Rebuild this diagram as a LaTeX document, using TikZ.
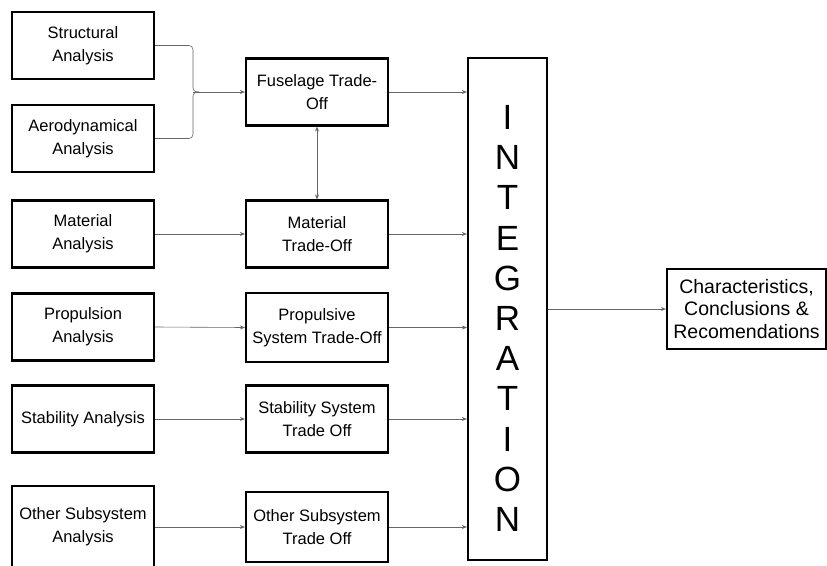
\documentclass[tikz,border=0pt]{standalone}
\usepackage{fontspec}
\setmainfont{Liberation Sans}
\usetikzlibrary{arrows.meta}

\begin{document}
\begin{tikzpicture}[x=1pt, y=-1pt, >={Stealth[length=5pt,width=4pt]},
  box/.style={draw, line width=2.2pt, minimum width=142pt, minimum height=67pt,
    inner sep=0pt, align=center, font=\fontsize{16.5}{23}\selectfont},
  link/.style={draw=black!60, line width=0.6pt}]
  \useasboundingbox (0,0) rectangle (827,565);

  % Analysis column
  \node[box] (struct) at (83,45.5) {Structural\\Analysis};
  \node[box] (aero) at (83,138.5) {Aerodynamical\\Analysis};
  \node[box] (matan) at (83,234) {Material\\Analysis};
  \node[box] (propan) at (83,327) {Propulsion\\Analysis};
  \node[box] (staban) at (83,419) {Stability Analysis};
  \node[box, minimum height=82pt] (otheran) at (83,527) {Other Subsystem\\Analysis};

  % Trade-off column
  \node[box] (fuse) at (317,92) {Fuselage Trade-\\Off};
  \node[box] (matto) at (317,234) {Material\\Trade-Off};
  \node[box, minimum height=69pt] (propto) at (317,327.5) {Propulsive\\System Trade-Off};
  \node[box] (stabto) at (317,419) {Stability System\\Trade Off};
  \node[box, minimum height=70pt] (otherto) at (317,527) {Other Subsystem\\Trade Off};

  % Integration block and result
  \node[draw, line width=2.2pt, minimum width=79pt, minimum height=502pt, inner sep=0pt] (integ) at (507.5,309) {};
  \node[align=center, inner sep=0pt, font=\fontsize{35}{40.2}\selectfont] (integword) at (507.5,318.5)
    {I\\N\\T\\E\\G\\R\\A\\T\\I\\O\\N};
  \node[box, minimum width=159pt, minimum height=80pt, font=\fontsize{19.5}{22.5}\selectfont] (result) at (746.5,309)
    {Characteristics,\\Conclusions \&\\Recomendations};

  % Bracket joining structural and aerodynamical
  \coordinate (merge) at (193,92);
  \draw[link, rounded corners=4pt] (struct.east) -| (merge) -- ++(6,0);
  \draw[link, rounded corners=4pt] (aero.east) -| (merge) -- ++(6,0);
  \draw[link, ->] (merge) -- (fuse.west);
  \draw[link, <->] (fuse.south) -- (matto.north);

  % Analysis to trade-off
  \draw[link, ->] (matan.east) -- (matto.west);
  \draw[link, ->] (propan.east) -- (propto.west);
  \draw[link, ->] (staban.east) -- (stabto.west);
  \draw[link, ->] (otheran.east) -- (otherto.west);

  % Trade-off to integration
  \draw[link, ->] (fuse.east) -- (fuse.east -| integ.west);
  \draw[link, ->] (matto.east) -- (matto.east -| integ.west);
  \draw[link, ->] (propto.east) -- (propto.east -| integ.west);
  \draw[link, ->] (stabto.east) -- (stabto.east -| integ.west);
  \draw[link, ->] (otherto.east) -- (otherto.east -| integ.west);

  \draw[link, ->] (integ.east |- result.west) -- (result.west);
\end{tikzpicture}
\end{document}
